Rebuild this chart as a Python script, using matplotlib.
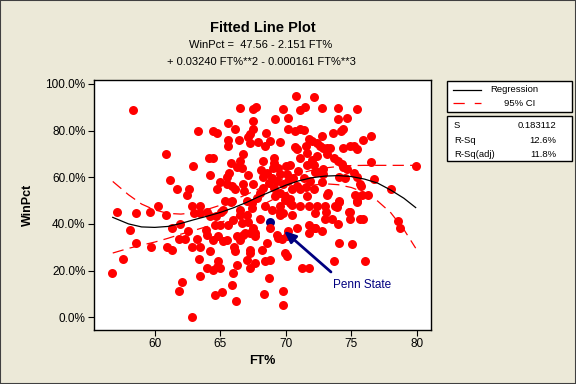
import matplotlib
matplotlib.use("Agg")
import matplotlib.pyplot as plt
from matplotlib.patches import Rectangle
from matplotlib.lines import Line2D

plt.rcParams['font.family'] = ['Liberation Sans', 'DejaVu Sans']

# ---- data (FT%, WinPct in %) ----
ft_pct = [
    58.37, 63.33, 60.89, 62.95, 61.19, 61.73, 62.65, 62.49,
    57.15, 58.6, 59.64, 60.28, 60.89, 62.87, 63.0, 63.49, 63.49, 61.96, 61.35, 58.14,
    62.54, 61.86, 62.34, 63.26, 58.6, 59.74, 60.97, 61.35, 62.87, 63.49, 57.61, 63.36,
    56.77, 63.49, 62.06, 61.88, 62.87,
    70.74, 72.11, 71.48, 71.09, 66.51, 67.48, 67.73, 69.82, 65.62, 66.13, 67.53, 69.16,
    70.13, 64.48, 64.78, 67.48, 67.28, 67.15, 67.28, 68.47, 70.15, 70.71, 71.09, 71.4,
    71.73, 71.98, 65.57, 66.44, 67.84, 68.8, 68.42, 69.52, 65.57, 70.71, 70.84, 71.55,
    71.6, 64.17, 64.48, 66.77, 66.51, 65.83, 66.31, 66.64, 67.15, 69.11, 69.11, 68.24,
    69.01, 69.44, 70.02, 70.33, 71.09, 71.6, 72.11, 64.25, 65.7, 65.5, 64.99, 64.73,
    65.5, 65.88, 66.13, 66.72, 66.82, 67.53, 68.29, 68.29, 68.93, 69.57, 70.08, 69.06,
    69.82, 69.95, 70.58, 70.84, 71.09, 71.35, 71.86, 72.11, 65.37, 65.88, 67.02, 67.4,
    67.79, 69.19, 70.33, 71.6, 68.55, 69.31, 70.2, 69.57, 70.46, 68.68, 68.04,
    63.97, 64.22, 65.24, 66.0, 64.6, 64.99, 65.62, 66.64, 67.15, 67.53, 66.9, 67.28,
    67.66, 66.26, 63.92, 63.97, 64.48, 64.86, 65.24, 65.5, 66.51, 68.04, 69.57, 69.82,
    70.46, 71.09, 71.73, 71.73, 72.24, 71.73, 70.84, 70.2, 69.7, 69.44, 68.8, 68.55,
    64.22, 66.06, 66.13, 67.28, 67.28, 68.17, 67.02, 67.28, 67.66, 68.42, 68.8, 69.95,
    70.08, 64.86, 64.73, 63.97, 64.48, 64.99, 66.26, 65.95, 65.88, 65.11, 64.6, 66.21,
    68.75, 68.37, 69.77, 69.77, 71.22, 71.8, 67.4, 68.42, 68.93, 69.57, 70.46, 72.24,
    66.51, 67.02, 69.31, 70.08, 66.77, 67.66,
    72.79, 73.96, 75.41, 73.96, 74.7, 74.39, 74.19, 73.63, 72.72, 75.92, 76.46, 72.36,
    72.61, 72.87, 73.12, 73.38, 73.17, 74.34, 74.9, 75.23, 75.46, 73.71, 74.01, 74.27,
    74.39, 74.65, 76.46, 79.89, 72.23, 72.49, 72.82, 72.82, 74.06, 74.52, 75.21, 75.41,
    75.62, 75.72, 76.76, 78.03, 72.74, 73.17, 74.09, 75.29, 75.79, 76.23, 75.41,
    78.59, 78.72, 74.09, 75.08, 73.71, 76.07, 73.0, 73.5, 74.9, 75.62, 75.92, 74.01,
    74.78, 72.74, 72.23, 72.36, 73.0, 73.76, 73.07, 74.09, 75.41, 73.23, 73.87, 74.89,
    70.33, 69.57, 72.37, 71.98, 69.95, 64.71, 65.09, 65.85, 66.49, 70.9, 71.5, 68.1,
]
win_pct = [
    88.8, 79.8, 69.9, 64.8, 58.8, 55.1, 55.1, 52.3,
    45.0, 44.6, 45.0, 47.5, 43.8, 47.6, 44.6, 47.6, 44.6, 39.9, 38.3, 37.3,
    36.9, 33.5, 33.5, 33.5, 31.7, 30.0, 30.0, 28.9, 30.0, 30.0, 24.9, 24.9,
    18.9, 17.6, 15.0, 11.1, 0.0,
    94.8, 94.4, 90.1, 88.8, 89.7, 89.1, 90.1, 89.1, 83.4, 80.5, 84.1, 84.8,
    85.2, 79.8, 79.1, 80.5, 78.7, 77.2, 74.8, 79.1, 80.5, 79.8, 80.5, 80.1,
    76.2, 75.5, 75.9, 75.9, 75.1, 75.5, 73.4, 75.2, 73.4, 72.9, 71.9, 73.4,
    70.5, 68.4, 68.4, 70.1, 66.9, 66.2, 64.4, 64.1, 60.9, 68.4, 66.2, 66.9,
    64.1, 64.1, 64.8, 65.2, 68.4, 65.2, 65.2, 60.9, 61.9, 60.1, 57.9, 54.8,
    56.9, 56.2, 54.8, 57.2, 54.1, 57.2, 60.1, 55.5, 59.8, 61.2, 61.2, 55.5,
    56.9, 51.9, 59.8, 56.2, 54.8, 59.8, 58.4, 54.8, 50.0, 50.0, 49.8, 49.0,
    51.2, 51.9, 50.5, 51.9, 61.9, 58.4, 58.4, 53.3, 54.8, 57.6, 53.3,
    45.3, 43.2, 46.0, 41.8, 39.6, 39.6, 39.6, 40.3, 41.0, 38.2, 36.0, 36.0,
    36.0, 34.6, 37.5, 35.3, 33.2, 34.6, 32.5, 33.2, 33.2, 42.2, 43.9, 44.6,
    43.9, 47.5, 47.5, 36.0, 38.2, 39.6, 38.2, 36.8, 33.5, 33.9, 38.2, 31.7,
    28.2, 30.3, 28.2, 28.9, 27.5, 28.9, 24.6, 21.0, 23.2, 23.9, 24.6, 27.5,
    26.3, 23.9, 21.7, 21.0, 20.3, 21.0, 22.4, 18.9, 13.9, 10.6, 9.3, 7.0,
    16.7, 9.8, 11.3, 5.1, 21.0, 21.0, 46.8, 47.5, 46.0, 47.5, 48.2, 44.6,
    46.0, 43.9, 35.3, 34.6, 35.3, 34.6,
    89.7, 89.7, 89.1, 85.0, 85.4, 80.5, 79.8, 79.1, 77.7, 75.9, 77.7, 74.8,
    73.4, 72.7, 72.7, 72.4, 70.1, 72.4, 73.4, 73.4, 72.1, 68.4, 66.9, 65.8,
    64.4, 63.4, 66.5, 64.8, 62.2, 62.2, 63.4, 61.2, 60.1, 59.8, 61.9, 60.1,
    57.2, 56.2, 59.4, 55.1, 57.9, 52.3, 49.8, 52.3, 52.3, 52.3, 49.8,
    41.2, 38.2, 31.8, 31.5, 24.0, 24.0, 42.2, 42.2, 42.2, 42.2, 42.2, 40.0,
    44.9, 36.8, 38.2, 47.5, 47.5, 47.5, 45.3, 49.6, 49.6, 53.2, 47.2, 45.3,
    48.9, 45.3, 69.0, 67.5, 50.3, 43.2, 45.3, 49.6, 43.9, 62.8, 56.0, 63.0,
]

penn_state_ft = 68.8
penn_state_win = 40.6

fit_x = [56.8, 58, 59, 60, 61, 62, 63, 64, 65, 66, 67, 68, 69, 70,
         71, 72, 73, 74, 75, 76, 77, 78, 79, 79.9]
fit_reg = [42.8, 40.0, 38.7, 38.5, 38.9, 40.2, 41.8, 43.3, 44.9, 46.9, 49.2, 51.8,
           54.2, 56.6, 58.5, 59.8, 60.5, 60.7, 60.3, 59.2, 57.5, 54.5, 51.0, 47.0]
ci_upper = [58.2, 52.5, 48.5, 46.0, 44.5, 44.2, 44.8, 46.2, 48.0, 50.2, 52.6, 55.2,
            57.6, 59.8, 61.6, 63.0, 64.0, 64.6, 65.0, 65.1, 65.1, 65.1, 65.1, 65.1]
ci_lower = [27.5, 29.5, 30.9, 32.2, 33.8, 35.6, 37.2, 38.9, 40.6, 42.5, 45.0, 47.6,
            50.4, 53.3, 55.5, 56.6, 57.2, 56.8, 55.6, 53.4, 49.8, 44.8, 37.6, 29.6]

x_ticks = [60, 65, 70, 75, 80]
y_ticks = [0, 20, 40, 60, 80, 100]

stats_labels = ["S", "R-Sq", "R-Sq(adj)"]
stats_values = ["0.183112", "12.6%", "11.8%"]

BG = '#ECE9D8'
W, H = 576, 384

fig = plt.figure(figsize=(W / 100, H / 100), dpi=100, facecolor=BG)
ax = fig.add_axes([94 / W, 1 - 330 / H, (431 - 94) / W, (330 - 80) / H])
ax.set_facecolor('white')

ax.scatter([penn_state_ft], [penn_state_win], s=42, color='#000080', zorder=3, linewidths=0)
ax.scatter(ft_pct, win_pct, s=42, color='#FF0000', zorder=4, linewidths=0)

ax.plot(fit_x, fit_reg, color='black', lw=0.9, zorder=5)
ax.plot(fit_x, ci_upper, color='#FF0000', lw=0.9, dashes=(9, 5), zorder=5)
ax.plot(fit_x, ci_lower, color='#FF0000', lw=0.9, dashes=(9, 5), zorder=5)

ax.annotate('', xy=(69.7, 37.8), xytext=(73.6, 18.6),
            arrowprops=dict(arrowstyle='-|>,head_length=0.7,head_width=0.3',
                            color='#000080', lw=2), zorder=6)
ax.text(73.62, 14.0, 'Penn State', color='#000080', fontsize=8.5,
        ha='left', va='center', zorder=6)

ax.set_xlim(55.37, 81.07)
ax.set_ylim(-5.5, 101.7)
ax.set_xticks(x_ticks)
ax.set_yticks(y_ticks)
ax.set_xticklabels([str(v) for v in x_ticks], fontsize=8.5)
ax.set_yticklabels([f"{v:.1f}%" for v in y_ticks], fontsize=8.5)
ax.tick_params(direction='out', length=4, width=0.8, color='black', pad=2)
for sp in ax.spines.values():
    sp.set_linewidth(1.0)
    sp.set_color('black')

ax.set_xlabel('FT%', fontsize=9, fontweight='bold', labelpad=3)
ax.set_ylabel('WinPct', fontsize=9, fontweight='bold', labelpad=8)

fig.text(0.5 * (94 + 431) / W, 1 - 28 / H, 'Fitted Line Plot', ha='center', va='center',
         fontsize=10.5, fontweight='bold')
fig.text(261 / W, 1 - 45 / H, 'WinPct =  47.56 - 2.151 FT%', ha='center', va='center', fontsize=8)
fig.text(261 / W, 1 - 62 / H, '+ 0.03240 FT%**2 - 0.000161 FT%**3', ha='center', va='center',
         fontsize=8)

# legend boxes
def fig_rect(x0, y0, x1, y1):
    return Rectangle((x0 / W, 1 - y1 / H), (x1 - x0) / W, (y1 - y0) / H,
                     transform=fig.transFigure, facecolor='white', edgecolor='black', lw=1.0)

fig.patches.append(fig_rect(447, 81, 572, 112))
fig.patches.append(fig_rect(447, 116, 572, 161))
fig.lines.append(Line2D([453 / W, 481 / W], [1 - 90 / H] * 2, transform=fig.transFigure,
                        color='black', lw=0.9))
fig.lines.append(Line2D([453 / W, 481 / W], [1 - 103 / H] * 2, transform=fig.transFigure,
                        color='#FF0000', lw=0.9, dashes=(9, 8)))
fig.text(490 / W, 1 - 90 / H, 'Regression', fontsize=6.8, va='center', ha='left')
fig.text(504 / W, 1 - 103 / H, '95% CI', fontsize=6.8, va='center', ha='left')
for i, (lab, val) in enumerate(zip(stats_labels, stats_values)):
    yy = 1 - (126 + 14.2 * i) / H
    fig.text(454 / W, yy, lab, fontsize=6.8, va='center', ha='left')
    fig.text(556 / W, yy, val, fontsize=6.8, va='center', ha='right')

# outer border
fig.patches.append(Rectangle((0, 0), 1, 1, transform=fig.transFigure, fill=False,
                             edgecolor='#404040', lw=1.5))

fig.savefig('out.png', dpi=100, facecolor=BG)
